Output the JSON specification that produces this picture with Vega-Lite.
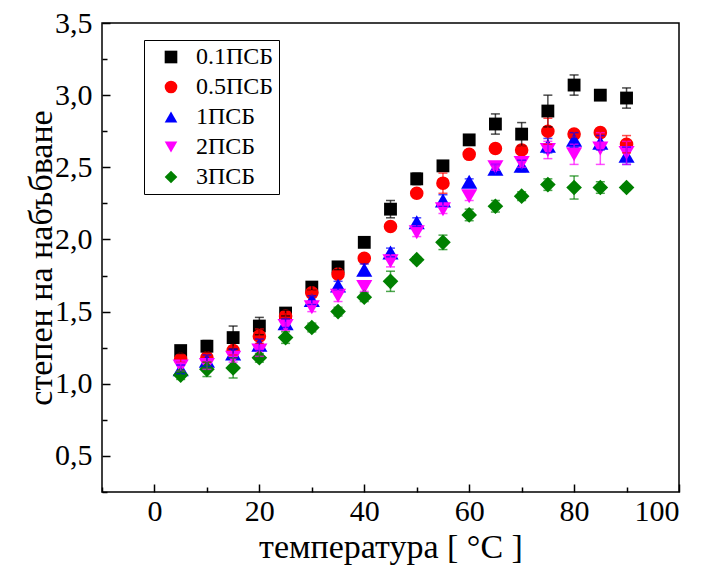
{
  "$schema": "https://vega.github.io/schema/vega-lite/v6.json",
  "width": 577,
  "height": 469,
  "autosize": {"type": "none"},
  "padding": {"left": 102, "top": 23, "right": 28, "bottom": 81},
  "background": "white",
  "config": {
    "view": {"stroke": "black", "strokeWidth": 1.5},
    "font": "Liberation Serif",
    "style": {
      "guide-label": {"font": "Liberation Serif", "fill": "black"},
      "guide-title": {"font": "Liberation Serif", "fill": "black", "fontWeight": "normal"}
    },
    "axis": {
      "domain": false,
      "grid": false,
      "labelFont": "Liberation Serif",
      "titleFont": "Liberation Serif",
      "labelColor": "black",
      "titleColor": "black",
      "tickColor": "black",
      "tickWidth": 1.5,
      "titleFontWeight": "normal",
      "labelFontSize": 30,
      "titleFontSize": 34
    },
    "legend": {
      "orient": "none",
      "legendX": 42,
      "legendY": 17,
      "strokeColor": "black",
      "padding": 5,
      "symbolOffset": 10,
      "labelOffset": 13,
      "symbolSize": 160,
      "labelFont": "Liberation Serif",
      "labelFontSize": 24,
      "labelColor": "black",
      "rowPadding": 6,
      "symbolStrokeWidth": 0,
      "symbolOpacity": 1
    }
  },
  "data": {
    "values": [
      {"t": 5, "s": "0.1ПСБ", "v": 1.23, "e": 0.02},
      {"t": 10, "s": "0.1ПСБ", "v": 1.26, "e": 0.04},
      {"t": 15, "s": "0.1ПСБ", "v": 1.32, "e": 0.08},
      {"t": 20, "s": "0.1ПСБ", "v": 1.40, "e": 0.06},
      {"t": 25, "s": "0.1ПСБ", "v": 1.49, "e": 0.02},
      {"t": 30, "s": "0.1ПСБ", "v": 1.67, "e": 0.02},
      {"t": 35, "s": "0.1ПСБ", "v": 1.81, "e": 0.02},
      {"t": 40, "s": "0.1ПСБ", "v": 1.98, "e": 0.03},
      {"t": 45, "s": "0.1ПСБ", "v": 2.21, "e": 0.06},
      {"t": 50, "s": "0.1ПСБ", "v": 2.42, "e": 0.04},
      {"t": 55, "s": "0.1ПСБ", "v": 2.51, "e": 0.02},
      {"t": 60, "s": "0.1ПСБ", "v": 2.69, "e": 0.02},
      {"t": 65, "s": "0.1ПСБ", "v": 2.80, "e": 0.07},
      {"t": 70, "s": "0.1ПСБ", "v": 2.73, "e": 0.08},
      {"t": 75, "s": "0.1ПСБ", "v": 2.89, "e": 0.11},
      {"t": 80, "s": "0.1ПСБ", "v": 3.07, "e": 0.07},
      {"t": 85, "s": "0.1ПСБ", "v": 3.00, "e": 0.01},
      {"t": 90, "s": "0.1ПСБ", "v": 2.98, "e": 0.07},

      {"t": 5, "s": "0.5ПСБ", "v": 1.17, "e": 0.02},
      {"t": 10, "s": "0.5ПСБ", "v": 1.18, "e": 0.03},
      {"t": 15, "s": "0.5ПСБ", "v": 1.23, "e": 0.03},
      {"t": 20, "s": "0.5ПСБ", "v": 1.33, "e": 0.05},
      {"t": 25, "s": "0.5ПСБ", "v": 1.47, "e": 0.02},
      {"t": 30, "s": "0.5ПСБ", "v": 1.63, "e": 0.02},
      {"t": 35, "s": "0.5ПСБ", "v": 1.76, "e": 0.02},
      {"t": 40, "s": "0.5ПСБ", "v": 1.87, "e": 0.02},
      {"t": 45, "s": "0.5ПСБ", "v": 2.09, "e": 0.02},
      {"t": 50, "s": "0.5ПСБ", "v": 2.32, "e": 0.03},
      {"t": 55, "s": "0.5ПСБ", "v": 2.39, "e": 0.07},
      {"t": 60, "s": "0.5ПСБ", "v": 2.59, "e": 0.03},
      {"t": 65, "s": "0.5ПСБ", "v": 2.63, "e": 0.03},
      {"t": 70, "s": "0.5ПСБ", "v": 2.62, "e": 0.03},
      {"t": 75, "s": "0.5ПСБ", "v": 2.75, "e": 0.09},
      {"t": 80, "s": "0.5ПСБ", "v": 2.73, "e": 0.02},
      {"t": 85, "s": "0.5ПСБ", "v": 2.74, "e": 0.03},
      {"t": 90, "s": "0.5ПСБ", "v": 2.66, "e": 0.06},

      {"t": 5, "s": "1ПСБ", "v": 1.10, "e": 0.03},
      {"t": 10, "s": "1ПСБ", "v": 1.16, "e": 0.04},
      {"t": 15, "s": "1ПСБ", "v": 1.21, "e": 0.03},
      {"t": 20, "s": "1ПСБ", "v": 1.27, "e": 0.04},
      {"t": 25, "s": "1ПСБ", "v": 1.42, "e": 0.03},
      {"t": 30, "s": "1ПСБ", "v": 1.58, "e": 0.03},
      {"t": 35, "s": "1ПСБ", "v": 1.68, "e": 0.03},
      {"t": 40, "s": "1ПСБ", "v": 1.79, "e": 0.04},
      {"t": 45, "s": "1ПСБ", "v": 1.91, "e": 0.03},
      {"t": 50, "s": "1ПСБ", "v": 2.12, "e": 0.03},
      {"t": 55, "s": "1ПСБ", "v": 2.27, "e": 0.04},
      {"t": 60, "s": "1ПСБ", "v": 2.40, "e": 0.02},
      {"t": 65, "s": "1ПСБ", "v": 2.49, "e": 0.03},
      {"t": 70, "s": "1ПСБ", "v": 2.51, "e": 0.04},
      {"t": 75, "s": "1ПСБ", "v": 2.65, "e": 0.05},
      {"t": 80, "s": "1ПСБ", "v": 2.69, "e": 0.05},
      {"t": 85, "s": "1ПСБ", "v": 2.67, "e": 0.05},
      {"t": 90, "s": "1ПСБ", "v": 2.58, "e": 0.06},

      {"t": 5, "s": "2ПСБ", "v": 1.12, "e": 0.03},
      {"t": 10, "s": "2ПСБ", "v": 1.13, "e": 0.03},
      {"t": 15, "s": "2ПСБ", "v": 1.18, "e": 0.03},
      {"t": 20, "s": "2ПСБ", "v": 1.23, "e": 0.04},
      {"t": 25, "s": "2ПСБ", "v": 1.40, "e": 0.03},
      {"t": 30, "s": "2ПСБ", "v": 1.53, "e": 0.03},
      {"t": 35, "s": "2ПСБ", "v": 1.61, "e": 0.04},
      {"t": 40, "s": "2ПСБ", "v": 1.67, "e": 0.03},
      {"t": 45, "s": "2ПСБ", "v": 1.85, "e": 0.04},
      {"t": 50, "s": "2ПСБ", "v": 2.05, "e": 0.03},
      {"t": 55, "s": "2ПСБ", "v": 2.21, "e": 0.03},
      {"t": 60, "s": "2ПСБ", "v": 2.30, "e": 0.03},
      {"t": 65, "s": "2ПСБ", "v": 2.50, "e": 0.02},
      {"t": 70, "s": "2ПСБ", "v": 2.53, "e": 0.03},
      {"t": 75, "s": "2ПСБ", "v": 2.62, "e": 0.06},
      {"t": 80, "s": "2ПСБ", "v": 2.59, "e": 0.07},
      {"t": 85, "s": "2ПСБ", "v": 2.63, "e": 0.11},
      {"t": 90, "s": "2ПСБ", "v": 2.60, "e": 0.08},

      {"t": 5, "s": "3ПСБ", "v": 1.06, "e": 0.03},
      {"t": 10, "s": "3ПСБ", "v": 1.10, "e": 0.05},
      {"t": 15, "s": "3ПСБ", "v": 1.11, "e": 0.07},
      {"t": 20, "s": "3ПСБ", "v": 1.18, "e": 0.03},
      {"t": 25, "s": "3ПСБ", "v": 1.32, "e": 0.04},
      {"t": 30, "s": "3ПСБ", "v": 1.39, "e": 0.03},
      {"t": 35, "s": "3ПСБ", "v": 1.50, "e": 0.03},
      {"t": 40, "s": "3ПСБ", "v": 1.60, "e": 0.03},
      {"t": 45, "s": "3ПСБ", "v": 1.71, "e": 0.07},
      {"t": 50, "s": "3ПСБ", "v": 1.86, "e": 0.02},
      {"t": 55, "s": "3ПСБ", "v": 1.98, "e": 0.05},
      {"t": 60, "s": "3ПСБ", "v": 2.17, "e": 0.04},
      {"t": 65, "s": "3ПСБ", "v": 2.23, "e": 0.04},
      {"t": 70, "s": "3ПСБ", "v": 2.30, "e": 0.03},
      {"t": 75, "s": "3ПСБ", "v": 2.38, "e": 0.04},
      {"t": 80, "s": "3ПСБ", "v": 2.36, "e": 0.08},
      {"t": 85, "s": "3ПСБ", "v": 2.36, "e": 0.04},
      {"t": 90, "s": "3ПСБ", "v": 2.36, "e": 0.02}
    ]
  },
  "encoding": {
    "x": {
      "field": "t",
      "type": "quantitative",
      "scale": {"domain": [-10, 100], "nice": false, "zero": false},
      "axis": {
        "title": "температура [ °C ]",
        "labelFont": "Liberation Serif",
        "titleFont": "Liberation Serif",
        "values": [-10, 0, 10, 20, 30, 40, 50, 60, 70, 80, 90, 100],
        "labelExpr": "datum.value % 20 === 0 ? datum.label : ''",
        "tickSize": {"condition": {"test": "datum.value % 20 === 0", "value": -8}, "value": -5},
        "labelPadding": 12,
        "titlePadding": 4
      }
    },
    "y": {
      "field": "v",
      "type": "quantitative",
      "scale": {"domain": [0.25, 3.5], "nice": false, "zero": false},
      "axis": {
        "title": "степен на набъбване",
        "labelFont": "Liberation Serif",
        "titleFont": "Liberation Serif",
        "values": [0.25, 0.5, 0.75, 1, 1.25, 1.5, 1.75, 2, 2.25, 2.5, 2.75, 3, 3.25, 3.5],
        "labelExpr": "(round(datum.value * 2) === datum.value * 2) ? replace(format(datum.value, '.1f'), '.', ',') : ''",
        "tickSize": {"condition": {"test": "round(datum.value * 2) === datum.value * 2", "value": -8}, "value": -5},
        "labelPadding": 18,
        "titlePadding": -4
      }
    },
    "color": {
      "field": "s",
      "type": "nominal",
      "title": null,
      "scale": {"domain": ["0.1ПСБ", "0.5ПСБ", "1ПСБ", "2ПСБ", "3ПСБ"], "range": ["#000000", "#FF0000", "#0000FF", "#FF00FF", "#008000"]}
    },
    "shape": {
      "field": "s",
      "type": "nominal",
      "title": null,
      "scale": {"domain": ["0.1ПСБ", "0.5ПСБ", "1ПСБ", "2ПСБ", "3ПСБ"], "range": ["square", "circle", "triangle-up", "triangle-down", "diamond"]}
    }
  },
  "layer": [
    {
      "transform": [{"filter": "datum.s === '0.1ПСБ'"}],
      "mark": {"type": "point", "filled": true, "opacity": 1, "size": 165}
    },
    {
      "transform": [{"filter": "datum.s === '0.5ПСБ'"}],
      "mark": {"type": "point", "filled": true, "opacity": 1, "size": 185}
    },
    {
      "transform": [{"filter": "datum.s === '1ПСБ'"}],
      "mark": {"type": "point", "filled": true, "opacity": 1, "size": 260}
    },
    {
      "transform": [{"filter": "datum.s === '2ПСБ'"}],
      "mark": {"type": "point", "filled": true, "opacity": 1, "size": 260}
    },
    {
      "transform": [{"filter": "datum.s === '3ПСБ'"}],
      "mark": {"type": "point", "filled": true, "opacity": 1, "size": 245}
    },
    {
      "mark": {"type": "errorbar", "ticks": {"size": 9, "thickness": 1.5}, "rule": {"strokeWidth": 1.5}, "opacity": 0.7},
      "encoding": {
        "yError": {"field": "e"},
        "shape": null
      }
    }
  ]
}
